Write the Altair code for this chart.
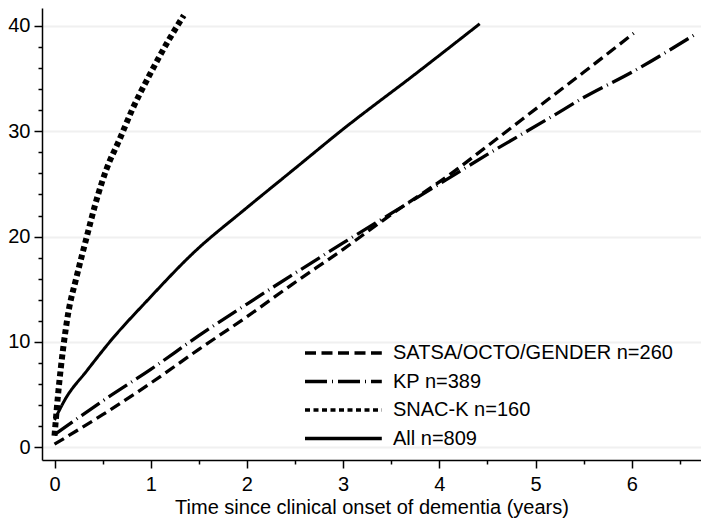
import altair as alt
import pandas as pd

# ---- data ----
SERIES = ["SATSA/OCTO/GENDER n=260", "KP n=389", "SNAC-K n=160", "All n=809"]

SATSA_X = [0.0, 0.5, 1.0, 1.5, 2.0, 2.46, 3.0, 3.5, 4.14, 4.5, 5.17, 5.5, 6.02]
SATSA_Y = [0.3, 3.1, 6.1, 9.3, 12.4, 15.4, 18.8, 22.1, 26.1, 28.6, 33.3, 35.6, 39.3]

KP_X = [0.0, 0.5, 1.0, 1.5, 2.0, 2.46, 3.0, 3.5, 4.0, 4.5, 5.17, 5.5, 6.0, 6.66]
KP_Y = [1.2, 4.4, 7.4, 10.6, 13.6, 16.3, 19.4, 22.2, 25.0, 27.8, 31.4, 33.2, 35.6, 39.2]

SNAC_X = [0.0, 0.04, 0.09, 0.14, 0.23, 0.33, 0.45, 0.54, 0.675, 0.81, 0.98, 1.19, 1.344]
SNAC_Y = [1.1, 5.3, 9.4, 12.6, 16.2, 19.8, 23.9, 26.4, 29.2, 32.1, 35.2, 38.7, 41.0]

ALL_X = [0.0, 0.12, 0.33, 0.61, 0.95, 1.46, 1.98, 2.49, 3.0, 3.76, 4.42]
ALL_Y = [2.6, 4.7, 7.2, 10.4, 13.8, 18.6, 22.6, 26.4, 30.2, 35.5, 40.2]

X_TICKS = [0, 0.5, 1, 1.5, 2, 2.5, 3, 3.5, 4, 4.5, 5, 5.5, 6, 6.5]
Y_TICKS = list(range(0, 42, 2))

X_TITLE = "Time since clinical onset of dementia (years)"

# ---- styles ----
FONT = "Liberation Sans"
DASHES = [[11, 5.5], [22, 5, 1, 5], [5, 3.5], [1, 0]]
WIDTHS = [3.3, 3.3, 6.0, 3.0]
THICK = SERIES[2]

# ---- table ----
rows = []
for name, w, xs, ys in zip(SERIES, WIDTHS, [SATSA_X, KP_X, SNAC_X, ALL_X], [SATSA_Y, KP_Y, SNAC_Y, ALL_Y]):
    for x, y in zip(xs, ys):
        rows.append({"series": name, "tag": name, "w": w, "t": x, "v": y})
df = pd.DataFrame(rows)

common = dict(
    orient="none", title=None,
    symbolType="M-1,0H5.4", symbolSize=576, symbolOffset=0,
    labelOffset=62, rowPadding=4.5, padding=0, labelLimit=0,
    labelFont=FONT, labelFontSize=20,
    symbolStrokeColor="black", symbolFillColor="transparent",
)
legend_main = alt.Legend(legendX=261, legendY=331, labelColor="black",
                         symbolStrokeWidth=3.3, **common)
# overlay that thickens the SNAC-K symbol only (label hidden, same position)
legend_thick = alt.Legend(legendX=260, legendY=386, labelColor="black", labelOpacity=0,
                          values=[THICK], symbolStrokeWidth=6.0, symbolDash=DASHES[2], **common)

major_y = "datum.value % 10 === 0"
major_x = "datum.value % 1 === 0"

chart = alt.Chart(df).mark_line(interpolate="monotone", color="black", strokeCap="butt").encode(
    x=alt.X("t:Q",
            scale=alt.Scale(domain=[-0.13, 6.72], nice=False, zero=False),
            axis=alt.Axis(values=X_TICKS, title=X_TITLE, grid=False,
                          labelExpr="datum.value % 1 === 0 ? '' + datum.value : ''",
                          tickSize={"condition": {"test": major_x, "value": 8}, "value": 4},
                          labelPadding=6, labelFlush=False, labelOverlap=False,
                          titlePadding=3)),
    y=alt.Y("v:Q",
            scale=alt.Scale(domain=[-1.2, 41.7], nice=False, zero=False),
            axis=alt.Axis(values=Y_TICKS, title=None, grid=True,
                          gridColor="#f0f0f0", gridWidth=2,
                          gridOpacity={"condition": {"test": major_y, "value": 1}, "value": 0},
                          labelExpr="datum.value % 10 === 0 ? '' + datum.value : ''",
                          tickSize={"condition": {"test": major_y, "value": 8}, "value": 4},
                          labelPadding=4, labelFlush=False, labelOverlap=False)),
    strokeDash=alt.StrokeDash("series:N", scale=alt.Scale(domain=SERIES, range=DASHES), legend=legend_main),
    strokeOpacity=alt.StrokeOpacity("tag:N", scale=alt.Scale(domain=list(reversed(SERIES)), range=[1, 1]),
                                    legend=legend_thick),
    strokeWidth=alt.StrokeWidth("w:Q", scale=None, legend=None),
    detail="series:N",
).properties(
    width=659, height=452,
    autosize=alt.AutoSizeParams(type="none"),
    padding={"left": 34, "top": 0, "right": 0, "bottom": 61},
).configure_view(stroke=None).configure_axis(
    labelFont=FONT, labelFontSize=20, labelColor="black",
    titleFont=FONT, titleFontSize=20, titleFontWeight="normal", titleColor="black",
    domainColor="black", domainWidth=1.5, tickColor="black", tickWidth=1.5,
)

chart.save("out.html", embed_options={"renderer": "svg", "actions": False})
